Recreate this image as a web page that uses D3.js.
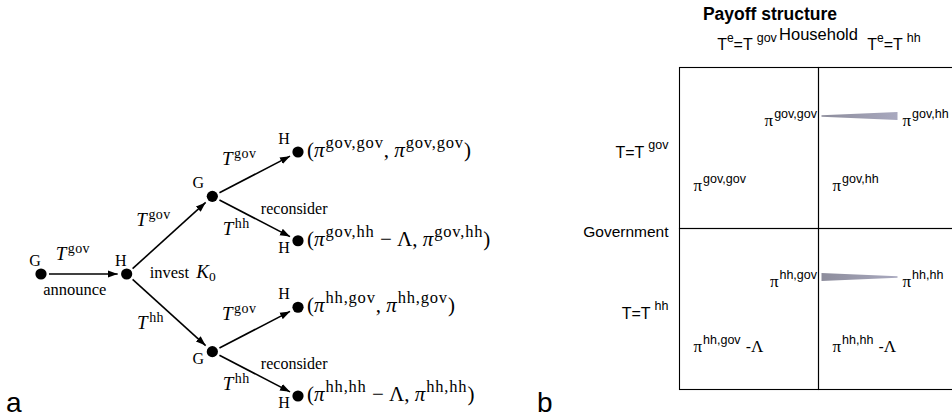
<!doctype html>
<html>
<head>
<meta charset="utf-8">
<title>Game tree and payoff structure</title>
<script src="https://d3js.org/d3.v7.min.js"></script>
<style>
  body { margin: 0; background: #fff; }
  svg { display: block; }
</style>
</head>
<body>
<svg class="plot"></svg>
<script>
    // ---- panel a: game tree ----
    var nodeIds     = ["announce", "invest", "govPath", "hhPath", "govGov", "govHh", "hhGov", "hhHh"];
    var parentIds   = [null, "announce", "invest", "invest", "govPath", "govPath", "hhPath", "hhPath"];
    var players     = ["G", "H", "G", "G", "H", "H", "H", "H"];
    var actions     = ["", "gov", "gov", "hh", "gov", "hh", "gov", "hh"];   // T superscript on the incoming edge
    var edgeNotes   = ["", "announce", "", "", "", "reconsider", "", "reconsider"];
    var payoffKeys  = ["", "", "", "", "gov,gov", "gov,hh", "hh,gov", "hh,hh"];
    var payoffCosts = [false, false, false, false, false, true, false, true];

    // ---- panel b: payoff structure ----
    var strategies   = ["gov", "hh"];
    var cellRows     = ["gov", "gov", "hh", "hh"];
    var cellCols     = ["gov", "hh", "gov", "hh"];
    var upperPayoffs = ["gov,gov", "gov,hh", "hh,gov", "hh,hh"];
    var lowerPayoffs = ["gov,gov", "gov,hh", "hh,gov", "hh,hh"];
    var lowerCosts   = [false, false, true, true];
    var wedgeRows    = ["gov", "hh"];
    var wedgeThinEnd = ["left", "right"];

    var width = 952, height = 418;
    var serif = "'Liberation Serif', 'Times New Roman', serif";
    var sans = "'Liberation Sans', Arial, Helvetica, sans-serif";

    var svg = d3.select(".plot").attr("width", width).attr("height", height);

    // text with super/subscripts, parts shifted with dy
    function rich(sel, x, y, parts, anchor) {
        var t = sel.append("text").attr("x", x).attr("y", y)
            .attr("text-anchor", anchor || "start");
        var lift = 0;
        parts.forEach(function (p) {
            var rise = p.rise || 0;
            var s = t.append("tspan").text(p.text)
                .attr("dy", lift - rise)
                .attr("font-size", p.size);
            if (p.font) s.attr("font-family", p.font);
            if (p.italic) s.attr("font-style", "italic");
            if (p.dx) s.attr("dx", p.dx);
            if (p.spacing) s.attr("letter-spacing", p.spacing);
            lift = rise;
        });
        return t;
    }

    // ================= panel a =================
    var rows = nodeIds.map(function (id, i) {
        return {id: id, parent: parentIds[i], player: players[i], action: actions[i],
                note: edgeNotes[i], payoff: payoffKeys[i], cost: payoffCosts[i]};
    });
    var root = d3.stratify().id(function (d) { return d.id; })
        .parentId(function (d) { return d.parent; })(rows);
    d3.cluster().nodeSize([1, 1])
        .separation(function (a, b) { return a.parent === b.parent ? 1 : 0.75; })(root);

    var nodes = root.descendants();
    var xTree = d3.scaleLinear().domain([0, 3]).range([41, 298]);
    var yTree = d3.scaleLinear().domain(d3.extent(nodes, function (d) { return d.x; })).range([152, 396]);
    nodes.forEach(function (d) { d.px = xTree(d.depth); d.py = yTree(d.x); });

    var tree = svg.append("g").attr("font-family", serif).attr("fill", "#000");

    svg.append("defs").append("marker")
        .attr("id", "head")
        .attr("viewBox", "0 -4 10 8")
        .attr("refX", 10).attr("refY", 0)
        .attr("markerUnits", "userSpaceOnUse")
        .attr("markerWidth", 10).attr("markerHeight", 8)
        .attr("orient", "auto")
        .append("path").attr("d", "M0,-3.6L10,0L0,3.6Z").attr("fill", "#000");

    var links = root.links();
    tree.selectAll(".edge").data(links).join("line")
        .attr("class", "edge")
        .each(function (l) {
            var dx = l.target.px - l.source.px, dy = l.target.py - l.source.py;
            var len = Math.sqrt(dx * dx + dy * dy), ux = dx / len, uy = dy / len;
            d3.select(this)
                .attr("x1", l.source.px + ux * 8).attr("y1", l.source.py + uy * 8)
                .attr("x2", l.target.px - ux * 9).attr("y2", l.target.py - uy * 9);
        })
        .attr("stroke", "#000").attr("stroke-width", 1.6)
        .attr("marker-end", "url(#head)");

    tree.selectAll(".node").data(nodes).join("circle")
        .attr("class", "node")
        .attr("cx", function (d) { return d.px; })
        .attr("cy", function (d) { return d.py; })
        .attr("r", 5.6);

    // player labels
    nodes.forEach(function (d) {
        var below = d.parent && d.depth > 1 && d.parent.children[1] === d;
        var lx, ly;
        if (d.depth <= 1) { lx = d.px - 6; ly = d.py - 8; }
        else { lx = d.px - 14; ly = below ? d.py + 12 : d.py - 8; }
        tree.append("text").attr("x", lx).attr("y", ly)
            .attr("text-anchor", "middle").attr("font-size", 16).text(d.data.player);
    });

    // edge labels
    links.forEach(function (l) {
        var mx = (l.source.px + l.target.px) / 2, my = (l.source.py + l.target.py) / 2;
        var dy = l.target.py - l.source.py;
        var cx, cy;
        if (Math.abs(dy) < 1) { cx = mx - 11; cy = my - 14; }
        else if (dy < 0) { cx = mx - 16; cy = my - 9; }
        else { cx = mx - 19; cy = my + 16; }
        rich(tree, cx, cy, [
            {text: "T", size: 19, italic: true},
            {text: l.target.data.action, size: 14, rise: 7, dx: 1.5, spacing: 0.4}
        ], "middle");
        if (l.target.data.note) {
            if (Math.abs(dy) < 1) {
                tree.append("text").attr("x", mx - 9).attr("y", my + 21)
                    .attr("text-anchor", "middle").attr("font-size", 16.5).text(l.target.data.note);
            } else {
                tree.append("text").attr("x", mx + 39).attr("y", my - 5)
                    .attr("text-anchor", "middle").attr("font-size", 16).text(l.target.data.note);
            }
        }
    });

    // invest K0 at the household node
    var inv = nodes.find(function (d) { return d.id === "invest"; });
    rich(tree, inv.px + 23, inv.py + 4, [
        {text: "invest ", size: 16.5},
        {text: "K", size: 19, italic: true, dx: 3},
        {text: "0", size: 13.5, rise: -3}
    ]);

    // payoffs at the leaves
    root.leaves().forEach(function (d) {
        var k = d.data.payoff;
        var parts = [
            {text: "(", size: 21},
            {text: "π", size: 21, italic: true},
            {text: k, size: 16.5, rise: 9, dx: 1, spacing: 0.8}
        ];
        if (d.data.cost) parts.push({text: " − Λ", size: 21});
        parts.push({text: ", ", size: 21});
        parts.push({text: "π", size: 21, italic: true});
        parts.push({text: k, size: 16.5, rise: 9, dx: 1, spacing: 0.8});
        parts.push({text: ")", size: 21});
        rich(tree, d.px + 9, d.py + 5, parts);
    });

    svg.append("text").attr("x", 6).attr("y", 412)
        .attr("font-family", sans).attr("font-size", 28).text("a");

    // ================= panel b =================
    var pay = svg.append("g").attr("font-family", sans).attr("fill", "#000");
    var col = d3.scaleBand().domain(strategies).range([679.5, 957.5]);
    var row = d3.scaleBand().domain(strategies).range([67.5, 389.5]);

    pay.append("text").attr("x", 770).attr("y", 20)
        .attr("text-anchor", "middle").attr("font-size", 17.5).attr("font-weight", "bold")
        .text("Payoff structure");
    pay.append("text").attr("x", col("hh")).attr("y", 40)
        .attr("text-anchor", "middle").attr("font-size", 16.5).text("Household");
    pay.append("text").attr("x", col("gov") - 11).attr("y", row("hh") + 8.5)
        .attr("text-anchor", "end").attr("font-size", 15.5).text("Government");

    strategies.forEach(function (s) {
        rich(pay, col(s) + col.bandwidth() / 2 + (s === "hh" ? 6 : -2), 50, [
            {text: "T", size: 16},
            {text: "e", size: 12, rise: 8},
            {text: "=T", size: 16},
            {text: s, size: 12.5, rise: 8, dx: 4}
        ], "middle");
        rich(pay, col("gov") - 11, row(s) + row.bandwidth() / 2 + 10, [
            {text: "T=T", size: 16},
            {text: s, size: 12.5, rise: 9, dx: 4}
        ], "end");
    });

    // grid
    pay.selectAll(".cell").data(cellRows.map(function (r, i) { return {r: r, c: cellCols[i]}; }))
        .join("rect").attr("class", "cell")
        .attr("x", function (d) { return col(d.c); })
        .attr("y", function (d) { return row(d.r); })
        .attr("width", col.bandwidth()).attr("height", row.bandwidth())
        .attr("fill", "none").attr("stroke", "#000").attr("stroke-width", 1.1);

    // payoffs in the cells
    cellRows.forEach(function (r, i) {
        var c = cellCols[i];
        var top = row(r), left = col(c);
        var upper = [
            {text: "π", size: 17, font: serif},
            {text: upperPayoffs[i], size: 12.5, rise: 8, dx: 1}
        ];
        if (c === "gov") rich(pay, left + col.bandwidth() - 1.5, top + 58, upper, "end");
        else rich(pay, left + 84, top + 58, upper);

        var lower = [
            {text: "π", size: 17, font: serif},
            {text: lowerPayoffs[i], size: 12.5, rise: 8, dx: 1}
        ];
        if (lowerCosts[i]) {
            lower.push({text: "-", size: 16, dx: 5});
            lower.push({text: "Λ", size: 17, font: serif});
        }
        rich(pay, left + 14, top + 123, lower);
    });

    // wedges between the upper payoffs
    var grad = svg.select("defs").append("linearGradient").attr("id", "wedge");
    grad.append("stop").attr("offset", "0%").attr("stop-color", "#8d8d9c");
    grad.append("stop").attr("offset", "100%").attr("stop-color", "#a9a9bf");

    wedgeRows.forEach(function (r, i) {
        var x0 = col("hh") + 3, x1 = col("hh") + 79;
        var yc = row(r) + 48.5;
        var thin = 0.7, thick = 3.9;
        var hl = wedgeThinEnd[i] === "left" ? thin : thick;
        var hr = wedgeThinEnd[i] === "left" ? thick : thin;
        pay.append("path")
            .attr("d", "M" + x0 + "," + (yc - hl) + "L" + x1 + "," + (yc - hr) +
                       "L" + x1 + "," + (yc + hr) + "L" + x0 + "," + (yc + hl) + "Z")
            .attr("fill", "url(#wedge)");
    });

    svg.append("text").attr("x", 537).attr("y", 412)
        .attr("font-family", sans).attr("font-size", 28).text("b");
</script>
</body>
</html>
